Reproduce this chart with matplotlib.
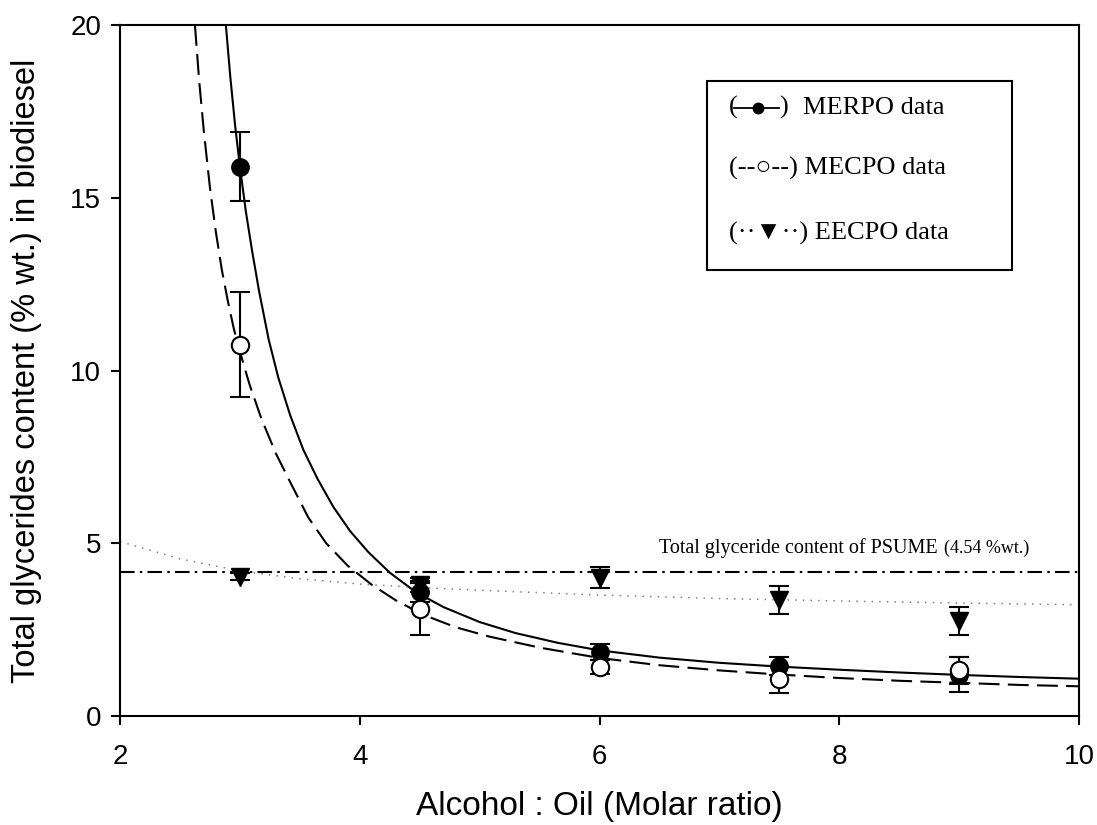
import matplotlib
matplotlib.use("Agg")
import matplotlib.pyplot as plt
from matplotlib.lines import Line2D
from matplotlib.patches import Rectangle

plt.rcParams['font.family'] = ['Liberation Sans', 'DejaVu Sans']

# measured points (molar ratio vs total glycerides %wt.)
ratio = [3, 4.5, 6, 7.5, 9]
merpo = [15.9, 3.6, 1.85, 1.45, 1.2]
merpo_err = [1.0, 0.3, 0.22, 0.27, 0.5]
mecpo = [10.74, 3.1, 1.43, 1.06, 1.32]
mecpo_err = [1.52, 0.75, 0.2, 0.4, 0.4]
eecpo = [4.03, 3.8, 4.0, 3.36, 2.75]
eecpo_err = [0.1, 0.2, 0.3, 0.4, 0.4]

# fitted curves
merpo_fit_x = [2.883, 2.92, 2.96, 3.0, 3.05, 3.1, 3.16, 3.24, 3.32, 3.42, 3.53,
               3.65, 3.78, 3.92, 4.07, 4.25, 4.47, 4.7, 5.0, 5.3, 5.65, 6.0,
               6.5, 7.0, 7.5, 8.0, 8.5, 9.0, 9.5, 10.0]
merpo_fit_y = [20.0, 18.5, 17.1, 15.9, 14.6, 13.5, 12.3, 10.9, 9.8, 8.7, 7.7,
               6.85, 6.05, 5.35, 4.75, 4.15, 3.58, 3.15, 2.72, 2.4, 2.12, 1.9,
               1.69, 1.54, 1.43, 1.34, 1.26, 1.19, 1.13, 1.08]
mecpo_fit_x = [2.625, 2.66, 2.7, 2.75, 2.8, 2.85, 2.9, 2.95, 3.0, 3.08, 3.18,
               3.3, 3.43, 3.57, 3.72, 3.9, 4.1, 4.3, 4.53, 4.8, 5.08, 5.5,
               6.0, 6.5, 7.0, 7.5, 8.0, 8.5, 9.0, 9.5, 10.0]
mecpo_fit_y = [20.0, 18.4, 16.9, 15.3, 14.0, 12.9, 12.0, 11.2, 10.55, 9.6, 8.6,
               7.6, 6.7, 5.75, 5.0, 4.35, 3.8, 3.35, 2.93, 2.57, 2.3, 1.98,
               1.68, 1.47, 1.32, 1.2, 1.1, 1.02, 0.96, 0.9, 0.86]
eecpo_fit_x = [2.0, 2.5, 3.0, 3.5, 4.0, 4.5, 5.0, 6.0, 7.0, 8.0, 9.0, 10.0]
eecpo_fit_y = [5.05, 4.55, 4.2, 3.97, 3.82, 3.72, 3.64, 3.5, 3.4, 3.33, 3.27, 3.22]

psume_level = 4.18

fig = plt.figure(figsize=(10.97, 8.25), dpi=100)
ax = fig.add_axes([0.1094, 0.1321, 0.8742, 0.8376])

ax.plot(merpo_fit_x, merpo_fit_y, color='black', lw=1.5)
ax.plot(mecpo_fit_x, mecpo_fit_y, color='black', lw=1.5, dashes=(10, 4))
ax.plot(eecpo_fit_x, eecpo_fit_y, color='#808080', lw=1.1, dashes=(1, 4))
ax.axhline(psume_level, color='black', lw=1.5, dashes=(7, 2.5, 1.2, 2.5))

eb = dict(color='black', elinewidth=1.5, capsize=7.5, capthick=1.5, ls='none')
ax.errorbar(ratio, merpo, yerr=merpo_err, marker='o', ms=12.5, mfc='black', mec='black', **eb)
ax.errorbar(ratio, mecpo, yerr=mecpo_err, marker='o', ms=12.5, mfc='white', mec='black', mew=1.5, **eb)
ax.errorbar(ratio, eecpo, yerr=eecpo_err, marker='v', ms=13, mfc='black', mec='black', **eb)

ax.set_xlim(2, 10)
ax.set_ylim(0, 20)
ax.set_xticks([2, 4, 6, 8, 10])
ax.set_yticks([0, 5, 10, 15, 20])
for s in ax.spines.values():
    s.set_linewidth(1.5)
ax.tick_params(direction='out', length=6.5, width=1.5, labelsize=20)
ax.tick_params(axis='x', pad=14)
ax.tick_params(axis='y', pad=7)

ax.set_xlabel('Alcohol : Oil (Molar ratio)', fontsize=24)
ax.set_ylabel('Total glycerides content (% wt.) in biodiesel', fontsize=23.5)
ax.xaxis.set_label_coords(0.5, -0.108)
ax.yaxis.set_label_coords(-0.081, 0.5)

serif = ['Liberation Serif', 'DejaVu Sans']
note = ax.text(0.562, 0.243, 'Total glyceride content of PSUME', family=serif, fontsize=14.5,
               transform=ax.transAxes, va='center', ha='left')
fig.canvas.draw()
bb = note.get_window_extent()
fig.text((bb.x1 + 6) / fig.bbox.width, (bb.y0 + bb.y1) / 2 / fig.bbox.height,
         '(4.54 %wt.)', family=serif, fontsize=13, va='center', ha='left')

# hand-made legend box
ax.add_patch(Rectangle((0.612, 0.645), 0.318, 0.274, transform=ax.transAxes,
                       fill=False, lw=1.5, ec='black', zorder=5))
ax.text(0.635, 0.880, '(', family=serif, fontsize=19, transform=ax.transAxes, va='center')
ax.add_line(Line2D([0.640, 0.687], [0.880, 0.880], color='black', lw=1.3,
                   transform=ax.transAxes))
ax.plot([0.665], [0.880], 'o', color='black', ms=7.5, transform=ax.transAxes)
ax.text(0.687, 0.880, ')', family=serif, fontsize=19, transform=ax.transAxes, va='center')
ax.text(0.712, 0.880, 'MERPO data', family=serif, fontsize=19, transform=ax.transAxes, va='center')
ax.text(0.635, 0.793, '(--\u25cb--) MECPO data', family=serif, fontsize=19,
        transform=ax.transAxes, va='center')
ax.text(0.635, 0.699, '(\u00b7\u00b7\u25bc\u00b7\u00b7) EECPO data', family=serif, fontsize=19,
        transform=ax.transAxes, va='center')

fig.savefig('out.png', dpi=100)
